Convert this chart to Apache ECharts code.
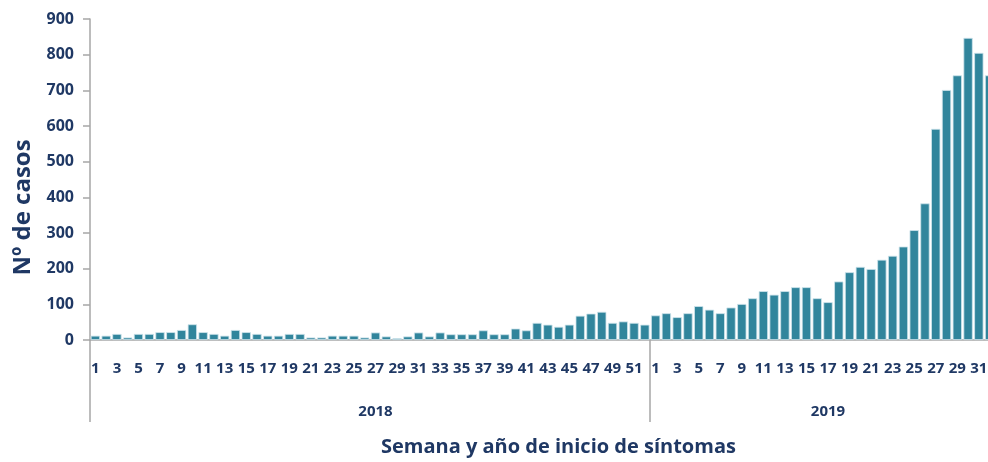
<!DOCTYPE html>
<html>
<head>
<meta charset="utf-8">
<script src="https://cdn.jsdelivr.net/npm/echarts@6/dist/echarts.min.js"></script>
<style>
  html, body { margin: 0; padding: 0; background: #fff; overflow: hidden; }
  #chart { width: 988px; height: 462px; }
</style>
</head>
<body>
<div id="chart"></div>
<script>
// ---- data ----
const years = ['2018', '2019'];
const weeks2018 = Array.from({length: 52}, (_, i) => String(i + 1));
const weeks2019 = Array.from({length: 32}, (_, i) => String(i + 1));
const cases2018 = [12,12,17,7,17,17,22,22,28,44,22,17,12,28,22,17,12,12,17,17,7,7,12,12,12,7,
                   21,10,5,10,21,10,21,16,16,16,27,16,16,32,27,48,43,37,43,68,74,79,48,52,48,43];
const cases2019 = [69,75,64,75,95,85,75,91,101,117,137,127,137,148,148,117,106,164,190,205,199,225,
                   236,262,308,383,592,701,742,847,805,742];
const yTicks = [0,100,200,300,400,500,600,700,800,900];

// ---- derived ----
const weekLabels = weeks2018.concat(weeks2019);
const values = cases2018.concat(cases2019);
const yearLabels = weekLabels.map(() => '');
yearLabels[Math.floor(weeks2018.length / 2)] = years[0];
yearLabels[weeks2018.length + Math.floor(weeks2019.length / 2)] = years[1];
const boundaries = [0, weeks2018.length];

const NAVY = '#1F3864';
const GREY = '#A6A6A6';
const FONT = '"Open Sans", "Liberation Sans", sans-serif';

const chart = echarts.init(document.getElementById('chart'), null, {renderer: 'canvas'});
chart.setOption({
  animation: false,
  backgroundColor: '#ffffff',
  title: {
    text: 'Semana y año de inicio de síntomas',
    left: 381,
    top: 437,
    padding: 0,
    textStyle: { color: NAVY, fontFamily: FONT, fontWeight: 'bold', fontSize: 20 }
  },
  grid: {
    left: 90, width: 905, top: 19, height: 321,
    containLabel: false, outerBoundsMode: 'none'
  },
  xAxis: [
    {
      type: 'category',
      data: weekLabels,
      boundaryGap: true,
      axisLine: { show: true, lineStyle: { color: GREY, width: 1.5 } },
      axisTick: { show: false },
      axisLabel: {
        interval: 1, margin: 21, color: NAVY, fontFamily: FONT,
        fontWeight: 'bold', fontSize: 15, hideOverlap: false
      },
      splitLine: { show: false }
    },
    {
      type: 'category',
      data: yearLabels,
      position: 'bottom',
      boundaryGap: true,
      axisLine: { show: false },
      axisTick: {
        show: true, length: 82,
        interval: (idx) => boundaries.indexOf(idx) >= 0,
        lineStyle: { color: GREY, width: 1.5 }
      },
      axisLabel: {
        interval: (idx, val) => val !== '',
        margin: 64, color: NAVY, fontFamily: FONT, fontWeight: 'bold', fontSize: 15
      },
      splitLine: { show: false }
    }
  ],
  yAxis: {
    type: 'value',
    min: yTicks[0], max: yTicks[yTicks.length - 1], interval: 100,
    name: 'Nº de casos',
    nameLocation: 'middle',
    nameGap: 52,
    nameTextStyle: {
      color: NAVY, fontFamily: FONT, fontWeight: 'bold', fontSize: 24,
      padding: [0, 56, 0, 0]
    },
    axisLine: { show: true, lineStyle: { color: GREY, width: 1.5 } },
    axisTick: { show: true, length: 7, lineStyle: { color: GREY, width: 1.5 } },
    axisLabel: { margin: 16, color: NAVY, fontFamily: FONT, fontWeight: 'bold', fontSize: 16 },
    splitLine: { show: false }
  },
  series: [{
    type: 'bar',
    xAxisIndex: 0,
    data: values,
    barCategoryGap: '14%',
    itemStyle: { color: '#31859C', borderColor: '#cfe4ec', borderWidth: 0.8 }
  }]
});
</script>
</body>
</html>
